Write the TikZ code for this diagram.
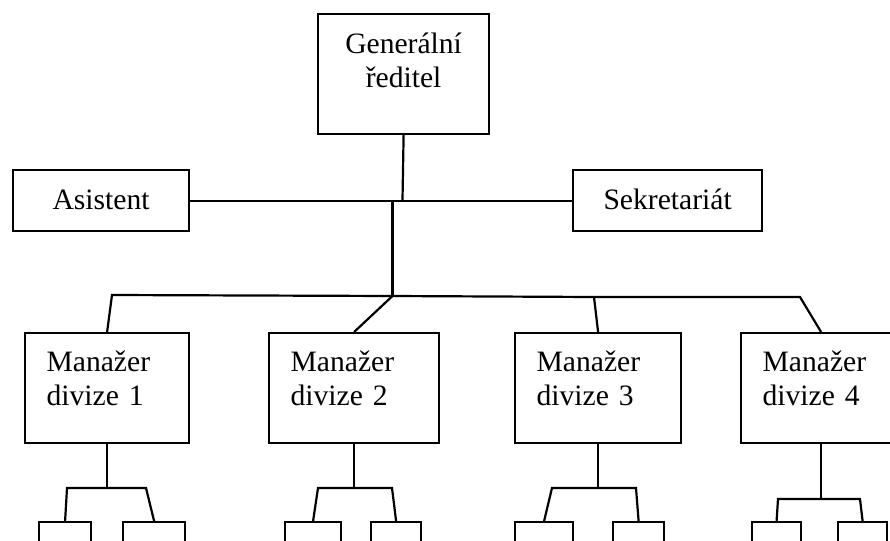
\documentclass[tikz,border=0pt]{standalone}
\usepackage{fontspec}
\setmainfont{Liberation Serif}
\begin{document}
\begin{tikzpicture}[x=0.5pt,y=-0.5pt]

\tikzset{box/.style = {draw, line width=1.1pt, anchor=north west, inner sep=0pt, font=\fontsize{14.8}{17}\selectfont}}
\tikzset{mgr/.style = {box, inner xsep=10.75pt, align=left, text height=19pt, text depth=36pt}}
\tikzset{small/.style = {box, minimum height=20pt}}
\tikzset{edge/.style = {line width=1.1pt}}

\useasboundingbox (0,0) rectangle (890,541);
\clip (0,0) rectangle (890,541);

\node[box, align=center, text width=85.5pt, text height=19.5pt, text depth=40.5pt] (gen) at (317,13) {Generální\\ředitel};
\node[box, minimum width=88pt, text height=19.5pt, text depth=11pt] (asist) at (12,169) {Asistent};
\node[box, minimum width=94.5pt, text height=19.5pt, text depth=11pt] (sekr) at (572,169) {Sekretariát};

\node[mgr, text width=60.5pt] (m1) at (24,332) {Manažer\\divize 1};
\node[mgr, text width=63.5pt] (m2) at (268,332) {Manažer\\divize 2};
\node[mgr, text width=61.5pt] (m3) at (514,332) {Manažer\\divize 3};
\node[mgr, text width=58.5pt] (m4) at (740,332) {Manažer\\divize 4};

\node[small, minimum width=26pt] (m1-a) at (38,521) {};
\node[small, minimum width=31pt] (m1-b) at (122,521) {};
\node[small, minimum width=28pt] (m2-a) at (284,521) {};
\node[small, minimum width=25pt] (m2-b) at (370,521) {};
\node[small, minimum width=29pt] (m3-a) at (514,521) {};
\node[small, minimum width=25.5pt] (m3-b) at (612,521) {};
\node[small, minimum width=24.5pt] (m4-a) at (751,521) {};
\node[small, minimum width=24.5pt] (m4-b) at (837,521) {};

% top part
\coordinate (top) at (402.5,200);
\coordinate (hub) at (392.5,200);
\coordinate (b1) at (112,295);
\coordinate (b2) at (392.5,296);
\coordinate (b3) at (594,297);
\coordinate (b4) at (800,297);
\draw[edge] (gen.south) -- (top);
\draw[edge] (asist.east) -- (sekr.west);
\draw[edge] (hub) -- (b2);
\draw[edge] (m1.north) -- (b1) -- (b2) -- (b3) -- (b4) -- (m4.north);
\draw[edge] (b2) -- (m2.north);
\draw[edge] (b3) -- (m3.north);

% divisions
\foreach \m/\y/\l/\r in {m1/488/67/146, m2/488/318/392, m3/488/552/636, m4/499/778/860}{
  \coordinate (\m-l) at (\l,\y);
  \coordinate (\m-r) at (\r,\y);
  \draw[edge] (\m.south) -- (\m.south |- \m-l);
  \draw[edge] (\m-a.north) -- (\m-l) -- (\m-r) -- (\m-b.north);
}

\end{tikzpicture}
\end{document}
